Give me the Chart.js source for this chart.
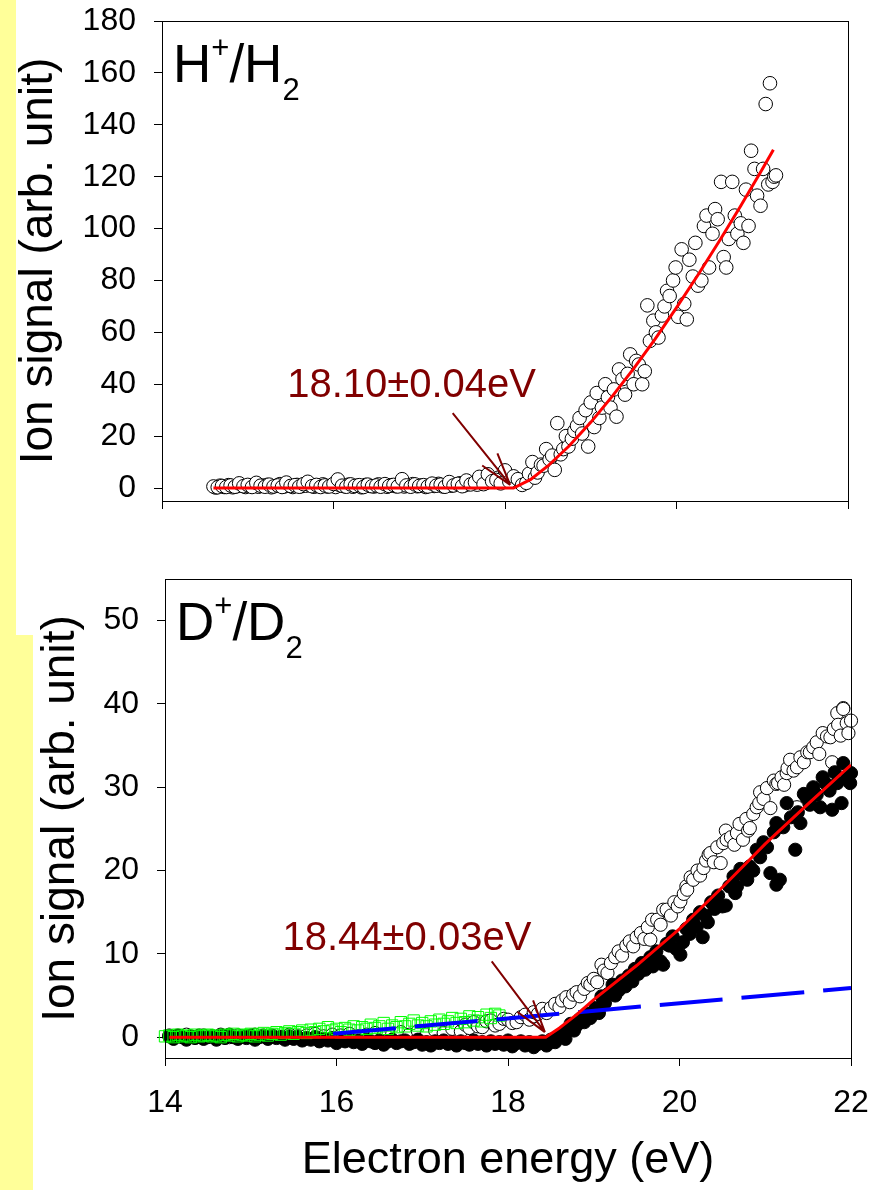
<!DOCTYPE html>
<html>
<head>
<meta charset="utf-8">
<title>Ion signal vs electron energy</title>
<script src="https://cdn.jsdelivr.net/npm/chart.js@4.4.0/dist/chart.umd.min.js"></script>
<style>
  html, body { margin: 0; padding: 0; background: #fff; }
  #page { position: relative; width: 881px; height: 1190px; overflow: hidden; }
  .band { position: absolute; left: 0; background: #ffff99; }
  canvas { position: absolute; left: 0; }
</style>
</head>
<body>
<div id="page">
  <div class="band" style="top:0;width:16px;height:635px"></div>
  <div class="band" style="top:635px;width:33px;height:555px"></div>
  <canvas id="topChart" width="881" height="560" style="top:0"></canvas>
  <canvas id="bottomChart" width="881" height="630" style="top:560px"></canvas>
</div>
<script>
// ---- data ----
var xTicks = [14, 16, 18, 20, 22];

// H+/H2, open circles
var hX = [14.60,14.65,14.70,14.75,14.80,14.85,14.90,14.95,15.00,15.05,15.10,15.15,15.20,15.25,15.30,15.35,15.40,15.45,15.50,15.55,
          15.60,15.65,15.70,15.75,15.80,15.85,15.90,15.95,16.00,16.05,16.10,16.15,16.20,16.25,16.30,16.35,16.40,16.45,16.50,16.55,
          16.60,16.65,16.70,16.75,16.80,16.85,16.90,16.95,17.00,17.05,17.10,17.15,17.20,17.25,17.30,17.35,17.40,17.45,17.50,17.55,
          17.60,17.65,17.70,17.75,17.80,17.85,17.90,17.95,18.00,18.05,
          18.10,18.15,18.20,18.25,18.28,18.32,18.35,18.38,18.42,18.45,18.48,18.52,18.55,18.58,18.61,18.65,18.68,18.71,18.74,18.78,
          18.81,18.84,18.87,18.90,18.94,18.97,19.00,19.04,19.07,19.10,19.13,19.17,19.20,19.23,19.27,19.30,19.33,19.37,19.40,19.43,
          19.46,19.50,19.53,19.56,19.60,19.63,19.66,19.69,19.73,19.76,19.79,19.83,19.86,19.89,19.92,19.96,19.99,20.02,20.06,20.09,
          20.12,20.15,20.19,20.22,20.25,20.29,20.32,20.35,20.38,20.42,20.45,20.48,20.52,20.55,20.58,20.61,20.65,20.68,20.71,20.75,
          20.78,20.81,20.84,20.87,20.91,20.94,20.98,21.01,21.04,21.07,21.09,21.12,21.14,21.16];
var hY = [0.6,0.3,0.8,0.4,1.0,0.5,1.8,0.7,1.2,0.4,2.0,0.9,0.5,1.3,0.6,1.0,0.4,2.1,0.8,1.1,
          0.5,1.5,2.4,0.7,1.2,0.4,1.0,0.6,1.6,3.3,0.9,0.5,1.4,0.8,1.1,0.4,1.3,0.7,1.0,0.5,
          1.5,0.8,1.2,0.6,3.4,1.0,0.5,1.4,0.8,1.1,0.6,1.7,0.9,1.3,0.5,2.3,1.0,1.6,0.7,2.9,
          1.4,2.2,4.3,1.5,5.3,2.6,3.1,1.8,6.8,2.5,
          4.5,3.4,1.2,2.0,5.5,10,4.0,6,9,8.6,15,11,12.5,7,25,13,15,20,16,19,
          22,24,27,21,30,16,33,23.5,36.6,27,31,40,35,31,38,27.5,45.7,42,36,44,
          51.5,40,49,47.6,40,45,70.4,56.7,64.5,60,58,66.5,70,76,74,80,85,66,92,71,
          65,88,81.5,94.5,78,80,101,105,85,98,107.5,103.6,118,89,85,96,118,105,98,102,
          94.5,115,101,130,123,112.7,108.8,123,148,117,156,118,120,120.5];
// H+/H2, extra circles in the dense flat part
var hX2 = [14.625,14.675,14.725,14.775,14.825,14.875,14.925,14.975,15.025,15.075,15.125,15.175,15.225,15.275,15.325,15.375,15.425,15.475,15.525,15.575,
           15.625,15.675,15.725,15.775,15.825,15.875,15.925,15.975,16.025,16.075,16.125,16.175,16.225,16.275,16.325,16.375,16.425,16.475,16.525,16.575,
           16.625,16.675,16.725,16.775,16.825,16.875,16.925,16.975,17.025,17.075,17.125,17.175,17.225,17.275,17.325,17.375,17.425,17.475,17.525,17.575,
           17.625,17.675,17.725,17.775,17.825,17.875,17.925,17.975,18.025];
var hY2 = [0.2,0.9,0.4,1.1,0.3,0.7,1.0,0.4,0.8,1.3,
           0.5,0.9,1.2,0.3,0.8,1.5,0.6,1.0,0.4,1.2,
           0.7,0.9,1.1,0.5,0.8,1.4,0.6,1.0,0.4,1.1,
           0.7,1.3,0.5,0.9,0.3,1.2,0.8,0.6,1.4,0.9,
           0.5,1.1,0.7,1.3,0.6,0.9,1.5,0.7,1.0,0.4,
           1.2,0.8,1.6,0.6,1.1,0.9,1.4,1.8,1.0,1.5,
           2.0,1.3,2.6,1.9,3.2,2.4,4.0,3.5,5.0];
// H+/H2 threshold fit
var hFitX = [14.60,18.10,18.30,18.50,18.75,19.00,19.25,19.50,19.75,20.00,20.25,20.50,20.75,21.00,21.13];
var hFitY = [0,0,3.3,8.5,16.3,25.3,35.3,46.0,57.4,69.5,82.1,95.2,108.8,122.9,130.4];

// D+/D2, filled circles
var dFillX = [14.05,14.10,14.15,14.20,14.25,14.30,14.35,14.40,14.45,14.50,14.55,14.60,14.65,14.70,14.75,14.80,14.85,14.90,14.95,15.00,
              15.05,15.10,15.15,15.20,15.25,15.30,15.35,15.40,15.45,15.50,15.55,15.60,15.65,15.70,15.75,15.80,15.85,15.90,15.95,16.00,
              16.05,16.10,16.15,16.20,16.25,16.30,16.35,16.40,16.45,16.50,16.55,16.60,16.65,16.70,16.75,16.80,16.85,16.90,16.95,17.00,
              17.05,17.10,17.15,17.20,17.25,17.30,17.35,17.40,17.45,17.50,17.55,17.60,17.65,17.70,17.75,17.80,17.85,17.90,17.95,18.00,
              18.05,18.10,18.15,18.20,18.25,18.30,18.35,18.40,18.45,
              18.50,18.55,18.60,18.63,18.67,18.70,18.73,18.77,18.80,18.84,18.89,18.92,18.96,19.00,19.02,19.06,19.09,19.13,19.17,19.22,
              19.25,19.29,19.33,19.37,19.41,19.45,19.48,19.52,19.56,19.60,19.62,19.66,19.69,19.73,19.78,19.81,19.85,19.88,19.92,19.96,
              20.01,20.04,20.08,20.12,20.16,20.20,20.24,20.27,20.30,20.33,20.37,20.41,20.45,20.50,20.54,20.58,20.63,20.65,20.67,20.71,
              20.75,20.79,20.82,20.86,20.90,20.94,20.98,21.02,21.06,21.10,21.13,21.13,21.17,21.21,21.25,21.30,21.35,21.38,21.41,21.45,
              21.48,21.52,21.56,21.60,21.64,21.67,21.71,21.75,21.78,21.81,21.84,21.89,21.91,21.95,21.99,22.00];
var dFillY = [0.1,-0.2,0.2,0.0,-0.3,0.1,-0.1,0.2,-0.2,0.0,0.1,-0.3,0.2,-0.1,0.3,0.0,-0.2,0.1,-0.1,0.2,
              -0.3,0.0,0.2,-0.2,0.1,-0.1,0.0,-0.3,0.1,-0.2,0.0,-0.4,-0.1,-0.3,0.0,-0.5,-0.2,-0.4,-0.1,-0.7,
              -0.3,-0.5,-0.2,-0.6,-0.4,-0.8,-0.3,-0.5,-0.7,-0.4,-0.9,-0.5,-0.3,-0.7,-0.5,-0.4,-0.8,-0.6,-0.3,-0.9,
              -0.6,-1.0,-0.5,-0.7,-0.4,-0.8,-0.6,-1.0,-0.5,-0.7,-0.9,-0.4,-0.8,-0.6,-1.0,-0.5,-0.8,-0.6,-0.9,-0.4,
              -1.1,-0.7,-0.5,-1.0,-0.6,-1.2,-0.8,-0.5,-1.0,
              -0.3,-0.6,0.2,0.4,-0.2,0.9,1.6,0.8,1.4,2.2,1.8,2.8,2.3,3.1,3.5,2.9,4.9,4.1,5.2,6.3,
              5.0,5.6,6.8,6.1,7.4,6.7,8.2,7.6,8.9,8.1,8.7,9.6,8.5,10.3,9.1,8.7,11.2,11.0,12.1,10.6,
              9.9,11.4,13.0,12.4,14.1,13.2,15.0,12.0,14.6,13.8,16.2,15.4,17.0,15.7,15.8,18.1,19.3,17.3,18.1,20.2,
              19.5,18.9,20.5,20.0,22.5,21.6,23.4,22.8,19.7,24.6,18.3,25.7,18.9,25.2,28.1,26.4,22.5,27.0,25.7,29.2,
              28.8,27.9,30.0,29.1,27.6,31.2,30.4,29.6,27.3,31.8,30.5,28.1,32.9,31.0,30.5,31.7];

// D+/D2, open circles
var dOpenX = [14.05,14.15,14.25,14.35,14.45,14.55,14.65,14.75,14.85,14.95,15.05,15.15,15.25,15.35,15.45,15.55,15.65,15.75,15.85,15.95,
              16.05,16.15,16.25,16.35,16.45,16.55,16.65,16.75,16.85,16.95,17.05,17.15,17.25,17.35,17.45,17.50,17.55,17.60,17.65,17.70,
              17.75,17.80,17.85,17.90,17.95,18.00,18.05,18.10,18.15,18.20,18.25,18.30,18.30,18.35,18.40,18.45,18.50,18.55,18.60,18.63,
              18.68,18.72,18.76,18.80,18.84,18.89,18.93,18.96,19.00,19.04,19.09,19.12,19.16,19.20,19.25,19.29,19.33,19.38,19.42,19.46,
              19.50,19.55,19.59,19.63,19.66,19.68,19.74,19.78,19.81,19.85,19.90,19.94,19.98,20.01,20.05,20.08,20.09,20.13,20.16,20.21,
              20.24,20.28,20.31,20.34,20.36,20.40,20.44,20.48,20.51,20.54,20.55,20.60,20.64,20.67,20.70,20.74,20.78,20.80,20.82,20.86,
              20.90,20.93,20.94,20.98,21.02,21.06,21.10,21.13,21.15,21.19,21.22,21.25,21.26,21.29,21.33,21.37,21.37,21.41,21.45,21.49,
              21.52,21.56,21.60,21.63,21.67,21.72,21.76,21.78,21.80,21.84,21.85,21.88,21.91,21.91,21.95,21.97,22.00];
var dOpenY = [0.2,0.1,0.3,0.0,0.2,0.1,0.3,0.0,0.2,0.1,0.3,0.1,0.2,0.0,0.3,0.1,0.2,0.4,0.1,0.3,
              0.2,0.4,0.1,0.3,0.5,0.2,0.4,0.6,0.3,0.7,0.4,0.8,0.5,1.0,0.7,1.5,1.1,1.8,1.3,1.2,
              1.9,2.0,1.4,1.6,2.2,2.1,1.7,1.8,2.4,2.7,2.1,2.5,3.0,2.8,3.4,2.9,3.5,4.0,3.6,4.4,
              4.8,4.2,5.1,5.4,4.9,5.8,6.5,6.3,7.0,6.6,8.7,8.0,7.7,8.9,9.6,10.3,9.8,11.0,11.5,10.9,
              12.0,12.5,11.8,13.2,11.7,14.1,14.1,13.5,15.3,15.3,14.6,16.2,15.7,16.3,17.2,18.1,17.7,19.2,18.9,20.0,
              19.4,20.3,21.2,21.9,22.1,21.0,22.8,20.9,23.3,24.8,23.7,24.0,23.1,24.5,25.6,23.7,26.2,24.8,25.1,26.8,
              27.6,28.1,29.4,28.6,29.9,27.5,30.8,30.4,30.5,31.2,30.3,31.7,32.3,33.3,32.0,32.4,27.6,33.6,33.0,34.2,
              34.2,34.8,35.4,34.0,36.5,36.1,36.0,33.0,37.0,38.9,37.5,36.2,39.5,39.4,37.7,36.5,38.0];

// D+/D2, green open squares
var dSqX = [14.00,14.05,14.10,14.15,14.20,14.25,14.30,14.35,14.40,14.45,14.50,14.55,14.60,14.65,14.70,14.75,14.80,14.85,14.90,14.95,
            15.00,15.05,15.10,15.15,15.20,15.25,15.30,15.35,15.40,15.45,15.50,15.55,15.60,15.65,15.70,15.75,15.80,15.85,15.90,15.95,
            16.00,16.05,16.10,16.15,16.20,16.25,16.30,16.35,16.40,16.45,16.50,16.55,16.60,16.65,16.70,16.75,16.80,16.85,16.90,16.95,
            17.00,17.05,17.10,17.15,17.20,17.25,17.30,17.35,17.40,17.45,17.50,17.55,17.60,17.65,17.70,17.75,17.80,17.85,17.90];
var dSqY = [0.1,0.2,0.0,0.3,0.1,0.2,0.0,0.3,0.1,0.2,0.3,0.1,0.2,0.0,0.3,0.2,0.4,0.1,0.3,0.2,
            0.4,0.1,0.3,0.5,0.2,0.4,0.6,0.3,0.5,0.7,0.4,0.6,0.8,0.5,0.9,0.6,1.0,0.7,1.2,0.8,
            1.0,0.6,1.1,0.9,1.3,0.8,1.2,1.0,1.5,1.1,1.3,1.7,1.0,1.4,1.2,1.8,1.3,1.6,2.0,1.4,
            1.7,1.3,1.9,1.5,2.1,1.6,1.9,2.3,1.7,2.2,1.8,2.5,2.0,2.4,1.9,2.7,2.3,2.8,2.6];

// D+/D2 fits
var dFitX = [14.05,18.44,18.60,18.80,19.00,19.50,20.00,20.50,21.00,21.50,22.00];
var dFitY = [0,0,1.1,2.7,4.5,8.6,13.0,18.0,23.2,28.0,32.7];
var dBgX = [15.96,22.00];
var dBgY = [0.4,5.9];

// ---- helpers ----
function pts(xs, ys) {
    return xs.map(function(x, i) { return {x: x, y: ys[i]}; });
}

var FONT = '"Liberation Sans", Arial, Helvetica, sans-serif';
Chart.defaults.font.family = FONT;
Chart.defaults.color = '#000';

// frame, arrow, threshold text and panel label
var notesPlugin = {
    id: 'notes',
    afterDatasetsDraw: function(chart, args, o) {
        var ctx = chart.ctx, a = chart.chartArea;
        var xs = chart.scales.x, ys = chart.scales.y;
        ctx.save();
        ctx.strokeStyle = '#000';
        ctx.lineWidth = 1;
        ctx.strokeRect(a.left + 0.5, a.top + 0.5, a.right - a.left, a.bottom - a.top);

        // arrow
        var tx = xs.getPixelForValue(o.tail[0]), ty = ys.getPixelForValue(o.tail[1]);
        var hx = xs.getPixelForValue(o.tip[0]), hy = ys.getPixelForValue(o.tip[1]);
        var ang = Math.atan2(ty - hy, tx - hx);
        ctx.strokeStyle = '#800000';
        ctx.lineWidth = 2;
        ctx.beginPath();
        ctx.moveTo(tx, ty);
        ctx.lineTo(hx, hy);
        [-0.29, 0.29].forEach(function(d) {
            ctx.moveTo(hx, hy);
            ctx.lineTo(hx + 34 * Math.cos(ang + d), hy + 34 * Math.sin(ang + d));
        });
        ctx.stroke();

        ctx.fillStyle = '#800000';
        ctx.font = '40px ' + FONT;
        ctx.textBaseline = 'alphabetic';
        ctx.textAlign = 'left';
        ctx.fillText(o.text, xs.getPixelForValue(o.at[0]), ys.getPixelForValue(o.at[1]));

        // panel label like H+/H2
        var x = a.left + 11, base = a.top + 61;
        ctx.fillStyle = '#000';
        o.label.forEach(function(p) {
            ctx.font = p[1] + 'px ' + FONT;
            ctx.fillText(p[0], x, base + p[2]);
            x += ctx.measureText(p[0]).width;
        });
        ctx.restore();
    }
};

function makeChart(id, cfg) {
    var ctx = document.getElementById(id);
    return new Chart(ctx, {
        type: 'scatter',
        data: { datasets: cfg.datasets },
        options: {
            responsive: false,
            animation: false,
            devicePixelRatio: 1,
            layout: { padding: cfg.padding },
            plugins: {
                legend: { display: false },
                tooltip: { enabled: false },
                notes: cfg.notes
            },
            scales: {
                x: {
                    type: 'linear',
                    min: 14, max: 22,
                    afterBuildTicks: function(s) { s.ticks = xTicks.map(function(v) { return {value: v}; }); },
                    ticks: {
                        font: { size: 32 }, color: '#000', padding: 18,
                        callback: function(v) { return cfg.xLabels ? v : ''; }
                    },
                    grid: { drawOnChartArea: false, drawTicks: true, tickLength: 8, color: '#000' },
                    border: { display: true, color: '#000', width: 1 },
                    title: {
                        display: cfg.xLabels, text: 'Electron energy (eV)',
                        font: { size: 45 }, color: '#000', padding: { top: 0, bottom: 2 }
                    },
                    afterFit: function(s) {
                        s.height = cfg.xHeight;
                        s.paddingLeft = 0;
                        s.paddingRight = 0;
                    }
                },
                y: {
                    type: 'linear',
                    min: cfg.yMin, max: cfg.yMax,
                    ticks: { stepSize: cfg.yStep, includeBounds: false, font: { size: 32 }, color: '#000', padding: 18 },
                    grid: { drawOnChartArea: false, drawTicks: true, tickLength: 8, color: '#000' },
                    border: { display: true, color: '#000', width: 1 },
                    title: {
                        display: true, text: 'Ion signal (arb. unit)',
                        font: { size: 46 }, color: '#000', padding: { top: cfg.titlePad, bottom: 0 }
                    },
                    afterFit: function(s) {
                        s.width = cfg.yWidth;
                        s.paddingTop = 0;
                        s.paddingBottom = 0;
                    }
                }
            }
        },
        plugins: [notesPlugin]
    });
}

// H+/H2 panel
makeChart('topChart', {
    padding: { top: 21, right: 33, bottom: 0, left: 0 },
    yWidth: 162, xHeight: 59, yMin: -5, yMax: 180, yStep: 20, titlePad: 12, xLabels: false,
    notes: {
        text: '18.10\u00b10.04eV', at: [15.46, 35.1],
        tail: [17.39, 28.9], tip: [18.06, 1.2],
        label: [['H', 53, 0], ['+', 31, -24], ['/H', 53, 0], ['2', 31, 18]]
    },
    datasets: [
        { data: pts(hFitX, hFitY), showLine: true, borderColor: '#ff0000', borderWidth: 3, pointRadius: 0, order: 0, clip: 10 },
        { data: pts(hX2, hY2).concat(pts(hX, hY)), pointRadius: 6.8, pointBorderWidth: 1, borderColor: '#000', backgroundColor: '#fff', order: 1, clip: 10 }
    ]
});

// D+/D2 panel
makeChart('bottomChart', {
    padding: { top: 19, right: 30, bottom: 0, left: 0 },
    yWidth: 165, xHeight: 132, yMin: -2.5, yMax: 55, yStep: 10, titlePad: 34, xLabels: true,
    notes: {
        text: '18.44\u00b10.03eV', at: [15.37, 10.5],
        tail: [17.81, 9.1], tip: [18.43, 0.6],
        label: [['D', 53, 0], ['+', 31, -24], ['/D', 53, 0], ['2', 31, 18]]
    },
    datasets: [
        { data: pts(dFitX, dFitY), showLine: true, borderColor: '#ff0000', borderWidth: 3, pointRadius: 0, order: 0, clip: 10 },
        { data: pts(dBgX, dBgY), showLine: true, borderColor: '#0000ff', borderWidth: 4, borderDash: [63, 19], pointRadius: 0, order: 1, clip: 10 },
        { data: pts(dSqX, dSqY), pointStyle: 'rect', pointRadius: 8, pointBorderWidth: 1, borderColor: '#00ff00', backgroundColor: 'rgba(0,0,0,0)', order: 2, clip: 10 },
        { data: pts(dFillX, dFillY), pointRadius: 6.6, pointBorderWidth: 1, borderColor: '#000', backgroundColor: '#000', order: 3, clip: 10 },
        { data: pts(dOpenX, dOpenY), pointRadius: 6.6, pointBorderWidth: 1, borderColor: '#000', backgroundColor: '#fff', order: 4, clip: 10 }
    ]
});
</script>
</body>
</html>
